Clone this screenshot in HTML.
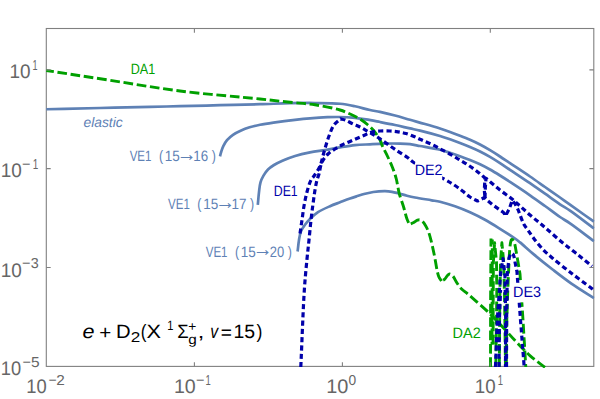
<!DOCTYPE html>
<html><head><meta charset="utf-8">
<style>
html,body{margin:0;padding:0;background:#fff;}
svg{display:block;font-family:"Liberation Sans",sans-serif;font-kerning:none;text-rendering:geometricPrecision;}
</style></head>
<body>
<svg width="600" height="399" viewBox="0 0 600 399">
<rect width="600" height="399" fill="#fff"/>
<defs><clipPath id="c"><rect x="45.8" y="28.0" width="548.7" height="339.9"/></clipPath></defs>
<rect x="46.3" y="28.5" width="547.5" height="337.9" fill="none" stroke="#808080" stroke-width="1.1"/>
<g clip-path="url(#c)" fill="none" stroke-linejoin="round">
<g stroke="#5E81B5" stroke-width="2.7">
<path d="M46.30,109.25 C64.20,108.83 82.42,108.40 100.00,108.00 C116.96,107.62 135.45,107.23 150.00,106.90 C161.27,106.64 169.28,106.46 180.00,106.20 C192.38,105.90 206.67,105.53 220.00,105.20 C233.33,104.87 247.62,104.56 260.00,104.20 C270.72,103.89 280.45,103.40 290.00,103.20 C298.71,103.02 306.67,102.91 315.00,103.00 C323.33,103.09 332.75,103.03 340.00,103.75 C345.66,104.31 350.02,105.26 355.00,106.30 C360.02,107.34 365.49,109.02 370.00,110.00 C373.66,110.80 376.34,111.11 380.00,111.90 C384.51,112.87 390.01,114.19 395.00,115.50 C400.01,116.82 405.00,118.38 410.00,119.80 C415.00,121.22 420.01,122.55 425.00,124.00 C430.01,125.45 435.52,127.07 440.00,128.50 C443.68,129.68 446.68,130.70 450.00,131.90 C453.34,133.10 456.68,134.39 460.00,135.70 C463.34,137.02 466.68,138.34 470.00,139.80 C473.35,141.27 476.70,142.79 480.00,144.50 C483.37,146.25 486.69,148.21 490.00,150.20 C493.36,152.21 496.68,154.34 500.00,156.50 C503.35,158.68 506.09,160.59 510.00,163.20 C515.52,166.88 523.84,172.29 530.00,176.50 C535.38,180.17 540.00,183.50 545.00,187.00 C550.00,190.50 555.51,194.33 560.00,197.50 C563.67,200.09 565.95,201.72 570.00,204.60 C576.28,209.07 586.00,216.00 594.00,221.70"/>
<path d="M220.00,156.30 C220.43,154.70 220.78,153.14 221.30,151.50 C221.86,149.74 222.42,147.90 223.30,146.10 C224.27,144.10 225.46,141.93 227.00,140.10 C228.65,138.15 230.78,136.34 233.00,134.80 C235.30,133.20 237.92,131.97 240.60,130.75 C243.44,129.46 246.45,128.29 249.60,127.30 C252.93,126.25 256.26,125.48 260.10,124.70 C264.66,123.77 269.82,123.07 275.20,122.30 C281.35,121.42 288.85,120.50 295.00,119.80 C300.34,119.20 304.80,118.72 310.00,118.30 C315.60,117.84 322.15,117.41 327.50,117.20 C332.01,117.02 335.83,116.93 340.00,117.00 C344.17,117.07 348.26,117.22 352.50,117.60 C356.92,118.00 361.47,118.68 366.00,119.40 C370.63,120.14 375.26,121.09 380.00,122.00 C384.92,122.95 390.01,123.93 395.00,125.00 C400.01,126.07 405.50,127.40 410.00,128.40 C413.67,129.22 416.11,129.65 420.00,130.60 C425.54,131.96 434.50,134.35 440.00,136.00 C443.92,137.18 446.68,138.14 450.00,139.30 C453.34,140.47 456.68,141.72 460.00,143.00 C463.34,144.29 466.68,145.59 470.00,147.00 C473.35,148.42 476.70,149.87 480.00,151.50 C483.36,153.16 486.70,154.99 490.00,156.90 C493.36,158.85 496.69,160.96 500.00,163.10 C503.35,165.26 506.09,167.18 510.00,169.80 C515.52,173.50 523.83,178.98 530.00,183.20 C535.38,186.88 540.00,190.19 545.00,193.70 C550.00,197.22 555.47,201.27 560.00,204.30 C563.63,206.73 566.01,207.87 570.00,210.60 C576.34,214.94 586.00,222.47 594.00,228.40"/>
<path d="M257.80,204.90 C258.20,200.63 258.51,196.08 259.00,192.10 C259.43,188.61 259.64,185.21 260.50,182.30 C261.24,179.80 262.26,177.72 263.50,175.60 C264.76,173.45 266.24,171.27 268.00,169.50 C269.75,167.74 271.73,166.41 274.00,165.00 C276.63,163.37 279.74,161.92 283.00,160.50 C286.70,158.89 290.82,157.31 295.10,156.00 C299.77,154.57 305.01,153.40 310.00,152.40 C314.97,151.40 320.00,150.83 325.00,150.00 C330.00,149.17 334.99,148.20 340.00,147.40 C344.99,146.60 349.99,145.72 355.00,145.20 C359.99,144.69 365.00,144.57 370.00,144.30 C375.00,144.03 380.00,143.72 385.00,143.60 C390.00,143.48 395.51,143.47 400.00,143.60 C403.67,143.71 406.68,143.80 410.00,144.20 C413.35,144.60 416.10,145.28 420.00,146.00 C425.52,147.02 434.51,148.46 440.00,149.80 C443.93,150.76 446.68,151.74 450.00,152.80 C453.34,153.87 456.68,155.00 460.00,156.20 C463.34,157.40 466.68,158.66 470.00,160.00 C473.35,161.36 476.70,162.73 480.00,164.30 C483.36,165.89 486.69,167.65 490.00,169.50 C493.36,171.38 496.68,173.44 500.00,175.50 C503.35,177.58 506.11,179.35 510.00,181.90 C515.54,185.53 523.84,191.04 530.00,195.30 C535.39,199.03 540.01,202.39 545.00,206.00 C550.01,209.63 555.46,213.89 560.00,217.00 C563.63,219.49 566.01,220.65 570.00,223.40 C576.34,227.77 586.00,235.27 594.00,241.20"/>
<path d="M297.60,251.50 C298.07,247.67 298.38,243.55 299.00,240.00 C299.55,236.88 299.94,233.92 301.00,231.30 C301.99,228.86 303.49,226.76 305.00,224.70 C306.49,222.66 308.06,220.91 310.00,219.00 C312.29,216.75 314.92,214.23 318.00,212.20 C321.48,209.90 326.14,207.91 330.00,206.20 C333.45,204.67 336.66,203.58 340.00,202.30 C343.33,201.02 346.99,199.57 350.00,198.50 C352.45,197.63 354.34,197.04 356.70,196.30 C359.31,195.48 362.22,194.52 365.00,193.80 C367.75,193.09 370.28,192.43 373.30,192.00 C376.85,191.50 381.60,191.17 385.00,191.20 C387.63,191.22 389.74,191.44 392.00,191.80 C394.17,192.15 396.04,192.72 398.30,193.30 C400.97,193.99 404.15,194.99 407.00,195.70 C409.71,196.38 411.84,196.88 415.00,197.50 C419.54,198.39 427.10,199.50 431.70,200.30 C434.95,200.87 436.85,201.05 440.00,201.80 C444.29,202.83 450.04,204.57 455.00,206.30 C460.04,208.06 465.05,210.08 470.00,212.30 C475.05,214.57 480.05,217.08 485.00,219.80 C490.05,222.57 495.03,225.70 500.00,228.80 C505.03,231.93 511.38,235.93 515.00,238.50 C517.16,240.03 517.95,240.71 520.00,242.40 C523.49,245.27 528.80,250.22 533.80,254.40 C539.54,259.20 546.29,264.60 552.60,269.50 C558.83,274.33 564.76,278.99 571.40,283.60 C578.50,288.53 586.47,293.27 594.00,298.10"/>
</g>
<g stroke="#00A000" stroke-width="2.9" stroke-dasharray="9.7 3.675">
<path stroke-dashoffset="2.05" d="M46.30,70.50 C67.53,73.77 88.27,76.97 110.00,80.30 C132.78,83.79 155.85,87.95 180.00,91.00 C205.74,94.25 239.75,96.87 260.00,99.00 C272.41,100.30 280.45,101.30 290.00,102.30 C298.71,103.21 306.70,103.53 315.00,104.80 C323.37,106.08 333.61,108.07 340.00,110.00 C344.15,111.25 346.70,112.52 350.00,114.00 C353.37,115.51 356.93,117.10 360.00,119.00 C362.90,120.79 365.59,122.91 368.00,125.00 C370.22,126.92 372.11,128.69 374.00,131.00 C376.14,133.61 378.53,137.20 380.00,140.00 C381.16,142.21 381.47,143.95 382.50,146.25 C383.83,149.22 385.87,152.80 387.50,156.25 C389.21,159.87 391.03,163.71 392.50,167.50 C393.94,171.22 395.18,174.72 396.25,178.75 C397.45,183.25 397.95,188.51 399.20,193.30 C400.45,198.10 402.41,203.03 403.75,207.50 C404.94,211.46 405.79,215.67 406.90,218.75 C407.70,220.99 408.57,222.52 409.40,224.40"/>
<path stroke-dashoffset="11.90" d="M409.40,224.40 C410.85,223.77 412.38,223.22 413.75,222.50 C415.07,221.81 416.34,220.63 417.50,220.20 C418.38,219.87 419.16,219.61 420.00,219.80 C421.02,220.03 422.15,220.92 423.10,221.90 C424.29,223.13 425.31,225.15 426.25,226.90 C427.20,228.68 427.98,230.40 428.75,232.50 C429.68,235.06 430.42,237.99 431.25,241.25 C432.28,245.30 433.21,249.90 434.30,255.00 C435.66,261.36 436.94,272.09 438.70,276.50 C439.56,278.67 440.57,279.50 441.50,281.00"/>
<path stroke-dashoffset="11.50" d="M441.50,281.00 C442.50,280.43 443.57,280.10 444.50,279.30 C445.60,278.36 446.54,276.43 447.50,275.50 C448.19,274.83 448.74,274.05 449.50,274.00 C450.40,273.94 451.60,274.74 452.60,275.70 C454.15,277.19 455.45,280.73 457.00,283.00 C458.46,285.14 459.84,287.21 461.60,289.00 C463.37,290.81 465.51,292.06 467.60,293.80 C469.98,295.78 472.28,297.81 475.10,300.30 C478.81,303.58 483.56,307.62 487.90,311.80 C492.71,316.44 497.81,321.92 502.60,327.00 C507.30,331.99 511.75,337.15 516.40,342.00 C520.95,346.74 525.39,351.53 530.20,355.80 C534.93,359.99 540.07,363.53 545.00,367.40"/>
<path d="M490.5,367 L490.6,300 L491,238.6"/>
<path stroke-dashoffset="7" d="M492,344.5 L492.1,300 L492.3,239.5"/>
<path d="M493.1,344.5 L493.2,300 L493.4,262 L494.6,242.8 L496.5,262 L496.8,290 L496.5,320 L495.8,367"/>
<path d="M499.3,367 L499.8,300 L500.5,262 L501.9,242.8 L503.7,262 L504.6,300 L505.5,367"/>
<path d="M506.3,367 L506.8,320 L507.8,290 L509,262 Q510,238 512,239.5 Q514,240 515,245 L518,262 L520,274 L523,320 L525.8,367"/>
</g>
<g stroke="#0000AA" stroke-width="3.2" stroke-dasharray="5.1 3.15">
<path d="M300.00,233.50 C300.67,229.00 301.34,224.54 302.00,220.00 C302.67,215.38 303.17,210.65 304.00,206.00 C304.83,201.32 305.78,196.45 307.00,192.00 C308.14,187.81 309.51,182.85 311.00,180.00 C311.94,178.21 312.88,177.67 314.00,176.00 C315.71,173.45 318.38,169.73 320.00,166.00 C321.81,161.83 322.56,156.81 324.00,152.00 C325.54,146.84 327.17,140.78 329.00,136.00 C330.55,131.94 331.87,127.97 334.00,125.00 C335.83,122.45 338.33,120.93 340.50,118.90 C342.00,119.27 343.32,119.39 345.00,120.00 C347.33,120.85 350.41,122.80 353.00,124.00 C355.39,125.11 357.62,125.83 360.00,127.00 C362.61,128.29 365.42,130.04 368.00,131.50 C370.41,132.87 372.66,134.04 375.00,135.50 C377.49,137.05 379.69,138.66 382.50,140.60 C386.15,143.12 390.81,146.57 395.00,149.40 C399.14,152.20 404.10,155.05 407.50,157.50 C409.99,159.30 410.76,160.51 413.75,162.50 C419.95,166.62 436.44,174.71 444.00,179.00 C448.60,181.61 451.73,183.34 455.00,185.50 C457.79,187.34 460.02,189.10 462.50,191.00 C465.02,192.93 467.41,195.30 470.00,197.00 C472.45,198.60 475.07,199.67 477.60,201.00 L484.50,197.50 L488.00,201.00 L492.60,204.80 L500.00,210.00 L503.50,212.50 L505.60,215.80 L509.20,209.00 L512.20,200.50 L515.20,204.00 L518.20,210.00 C520.13,214.83 522.00,220.80 524.00,224.50 C525.37,227.03 526.70,228.36 528.20,230.50 C529.93,232.98 531.62,235.66 533.80,238.50 C536.47,241.97 539.95,246.32 543.20,249.70 C546.23,252.84 548.87,255.03 552.60,258.20 C557.74,262.56 565.10,268.32 571.40,273.20 C577.63,278.02 586.32,284.32 590.20,287.30 C591.96,288.65 592.73,289.30 594.00,290.30"/>
<path d="M300.80,367.00 C302.00,341.00 303.08,308.89 304.40,289.00 C305.22,276.65 306.15,267.86 307.00,259.00 C307.68,251.94 308.34,246.42 309.00,240.00 C309.68,233.42 310.29,226.29 311.00,220.00 C311.63,214.37 312.31,209.15 313.00,204.00 C313.65,199.17 314.27,194.27 315.00,190.00 C315.62,186.38 316.23,182.89 317.00,180.00 C317.60,177.72 318.31,176.36 319.00,174.00 C319.96,170.70 320.36,165.46 322.00,162.00 C323.48,158.89 325.73,156.22 328.00,154.00 C330.10,151.95 332.63,150.52 335.00,149.00 C337.30,147.53 339.55,146.23 342.00,145.00 C344.55,143.72 347.33,142.67 350.00,141.50 C352.67,140.33 355.33,139.17 358.00,138.00 C360.67,136.83 363.52,135.56 366.00,134.50 C368.14,133.59 369.81,132.58 372.00,132.00 C374.44,131.35 377.18,131.18 380.00,131.00 C383.14,130.80 386.86,130.84 390.00,131.00 C392.82,131.14 395.34,131.39 398.00,131.80 C400.68,132.22 403.36,132.73 406.00,133.50 C408.70,134.29 411.54,135.47 414.00,136.50 C416.16,137.41 418.09,138.43 420.00,139.30 C421.74,140.09 423.16,140.70 425.00,141.50 C427.27,142.49 430.11,143.59 432.60,144.80 C435.11,146.02 437.27,147.34 440.00,148.80 C443.37,150.60 447.94,152.88 451.30,154.80 C454.08,156.39 456.30,157.88 458.80,159.40 C461.30,160.91 463.89,162.37 466.30,163.90 C468.62,165.37 470.85,166.87 473.00,168.40 C475.08,169.87 477.02,171.32 479.00,172.90 C481.02,174.52 483.00,176.30 485.00,178.00 L484.30,190.00 L485.00,198.50 L485.30,188.00 L486.00,178.30 C490.67,182.20 495.47,186.41 500.00,190.00 C504.11,193.25 508.45,196.12 512.00,199.00 C514.99,201.42 517.19,203.51 520.00,206.00 C523.16,208.80 526.64,212.09 530.00,215.00 C533.30,217.86 536.87,220.67 540.00,223.30 C542.79,225.64 544.90,227.43 547.90,230.00 C551.93,233.45 557.33,238.35 562.00,242.20 C566.43,245.86 570.55,248.88 575.20,252.60 C580.48,256.81 586.40,261.67 592.00,266.20"/>
<path d="M495.5,367 L497.3,320 L500.5,274 L503,258.5 L505,276.6 L505.7,320 L505.5,367"/>
<path d="M499,367 L499.4,320 L500.5,290"/>
<path d="M506.5,367 L506.6,320 L507.3,274 L508,267 L509,258 Q513,247 515,262 L517,271.8 L517.5,279 L520.5,320 L524.2,367"/>
</g>
</g>
<g stroke="#808080" stroke-width="1.1" fill="none">
<path d="M194.4,366.4v-4.2M194.4,28.5v4.2M342.4,366.4v-4.2M342.4,28.5v4.2M490.3,366.4v-4.2M490.3,28.5v4.2M46.3,69.9h4.4M593.8,69.9h-4.4M46.3,168.6h4.4M593.8,168.6h-4.4M46.3,267.5h4.4M593.8,267.5h-4.4"/>
</g>
<g fill="#666">
<text transform="translate(9.46,78.20) scale(0.1896,0.1970)" font-size="100">10</text>
<text transform="translate(32.61,69.80) scale(0.0905,0.1450)" font-size="100">1</text>
<text transform="translate(0.66,177.40) scale(0.1896,0.1970)" font-size="100">10</text>
<text transform="translate(22.09,169.00) scale(0.1441,0.1450)" font-size="100">−</text>
<text transform="translate(32.64,169.00) scale(0.0997,0.1450)" font-size="100">1</text>
<text transform="translate(0.66,276.50) scale(0.1896,0.1970)" font-size="100">10</text>
<text transform="translate(22.09,268.00) scale(0.1441,0.1450)" font-size="100">−</text>
<text transform="translate(30.85,268.00) scale(0.1434,0.1450)" font-size="100">3</text>
<text transform="translate(0.81,375.30) scale(0.1825,0.1970)" font-size="100">10</text>
<text transform="translate(22.39,366.60) scale(0.1441,0.1450)" font-size="100">−</text>
<text transform="translate(31.08,366.60) scale(0.1540,0.1450)" font-size="100">5</text>
<text transform="translate(26.20,392.90) scale(0.1835,0.1970)" font-size="100">10</text>
<text transform="translate(48.41,384.70) scale(0.1400,0.1450)" font-size="100">−</text>
<text transform="translate(56.33,384.70) scale(0.1537,0.1450)" font-size="100">2</text>
<text transform="translate(173.90,392.90) scale(0.1966,0.1970)" font-size="100">10</text>
<text transform="translate(196.09,384.80) scale(0.1441,0.1450)" font-size="100">−</text>
<text transform="translate(205.38,384.80) scale(0.0951,0.1450)" font-size="100">1</text>
<text transform="translate(326.18,392.90) scale(0.1996,0.1970)" font-size="100">10</text>
<text transform="translate(348.56,384.70) scale(0.1381,0.1450)" font-size="100">0</text>
<text transform="translate(474.87,392.90) scale(0.1875,0.1970)" font-size="100">10</text>
<text transform="translate(497.78,384.80) scale(0.0951,0.1450)" font-size="100">1</text>
</g>
<rect x="131.2" y="59.5" width="23.9" height="19.5" fill="#fff"/>
<text transform="translate(130.66,74.00) scale(0.1262,0.1500)" font-size="100" fill="#00A000">DA1</text>
<rect x="83.4" y="112.8" width="39.7" height="19.5" fill="#fff"/>
<text transform="translate(83.43,127.30) scale(0.1387,0.1400)" font-size="100" fill="#5E81B5" font-style="italic">elastic</text>
<rect x="129.2" y="146.8" width="86.3" height="19.5" fill="#fff"/>
<text transform="translate(129.65,161.30) scale(0.1149,0.1500)" font-size="100" fill="#5E81B5">VE1</text>
<text transform="translate(158.93,161.30) scale(0.1245,0.1500)" font-size="100" fill="#5E81B5">(</text>
<text transform="translate(164.77,161.30) scale(0.1348,0.1500)" font-size="100" fill="#5E81B5">15</text>
<text transform="translate(176.76,160.60) scale(0.1977,0.2150)" font-size="100" fill="#5E81B5">→</text>
<text transform="translate(193.18,161.30) scale(0.1340,0.1500)" font-size="100" fill="#5E81B5">16</text>
<text transform="translate(211.63,161.30) scale(0.1245,0.1500)" font-size="100" fill="#5E81B5">)</text>
<rect x="167.6" y="194.8" width="86.3" height="19.5" fill="#fff"/>
<text transform="translate(168.05,209.30) scale(0.1149,0.1500)" font-size="100" fill="#5E81B5">VE1</text>
<text transform="translate(197.33,209.30) scale(0.1245,0.1500)" font-size="100" fill="#5E81B5">(</text>
<text transform="translate(203.17,209.30) scale(0.1348,0.1500)" font-size="100" fill="#5E81B5">15</text>
<text transform="translate(215.16,208.60) scale(0.1977,0.2150)" font-size="100" fill="#5E81B5">→</text>
<text transform="translate(231.57,209.30) scale(0.1349,0.1500)" font-size="100" fill="#5E81B5">17</text>
<text transform="translate(250.03,209.30) scale(0.1245,0.1500)" font-size="100" fill="#5E81B5">)</text>
<rect x="205.3" y="242.2" width="86.3" height="19.5" fill="#fff"/>
<text transform="translate(205.75,256.70) scale(0.1149,0.1500)" font-size="100" fill="#5E81B5">VE1</text>
<text transform="translate(235.03,256.70) scale(0.1245,0.1500)" font-size="100" fill="#5E81B5">(</text>
<text transform="translate(240.87,256.70) scale(0.1348,0.1500)" font-size="100" fill="#5E81B5">15</text>
<text transform="translate(252.86,256.00) scale(0.1977,0.2150)" font-size="100" fill="#5E81B5">→</text>
<text transform="translate(269.65,256.70) scale(0.1300,0.1500)" font-size="100" fill="#5E81B5">20</text>
<text transform="translate(287.73,256.70) scale(0.1245,0.1500)" font-size="100" fill="#5E81B5">)</text>
<rect x="274.3" y="181.5" width="23.3" height="19.5" fill="#fff"/>
<text transform="translate(273.79,196.00) scale(0.1229,0.1500)" font-size="100" fill="#0000AA">DE1</text>
<rect x="415.3" y="160.9" width="26.9" height="19.5" fill="#fff"/>
<text transform="translate(414.63,175.40) scale(0.1429,0.1500)" font-size="100" fill="#0000AA">DE2</text>
<rect x="513.7" y="282.8" width="27.2" height="19.5" fill="#fff"/>
<text transform="translate(513.02,297.25) scale(0.1440,0.1500)" font-size="100" fill="#0000AA">DE3</text>
<rect x="453.3" y="323.2" width="27.2" height="19.5" fill="#fff"/>
<text transform="translate(452.61,337.70) scale(0.1445,0.1500)" font-size="100" fill="#00A000">DA2</text>
<g fill="#000">
<text transform="translate(82.47,338.00) scale(0.2163,0.1930)" font-size="100" font-style="italic">e</text>
<text transform="translate(99.19,339.20) scale(0.2058,0.1930)" font-size="100">+</text>
<text transform="translate(116.04,338.00) scale(0.2026,0.1930)" font-size="100">D</text>
<text transform="translate(130.84,342.00) scale(0.1712,0.1420)" font-size="100">2</text>
<text transform="translate(140.65,338.00) scale(0.1697,0.1930)" font-size="100">(</text>
<text transform="translate(146.51,338.00) scale(0.2165,0.1930)" font-size="100">X</text>
<text transform="translate(167.35,329.80) scale(0.1113,0.1360)" font-size="100">1</text>
<text transform="translate(177.13,337.90) scale(0.1845,0.1930)" font-size="100">Σ</text>
<text transform="translate(188.33,330.60) scale(0.1379,0.1360)" font-size="100">+</text>
<text transform="translate(188.16,343.60) scale(0.1534,0.1360)" font-size="100">g</text>
<text transform="translate(197.79,338.00) scale(0.2343,0.1930)" font-size="100">,</text>
<text transform="translate(210.24,338.00) scale(0.1582,0.1930)" font-size="100" font-style="italic">v</text>
<text transform="translate(220.67,338.60) scale(0.1914,0.1930)" font-size="100">=</text>
<text transform="translate(233.52,338.00) scale(0.1941,0.1930)" font-size="100">15</text>
<text transform="translate(256.50,338.00) scale(0.1773,0.1930)" font-size="100">)</text>
</g>
</svg>
</body></html>
